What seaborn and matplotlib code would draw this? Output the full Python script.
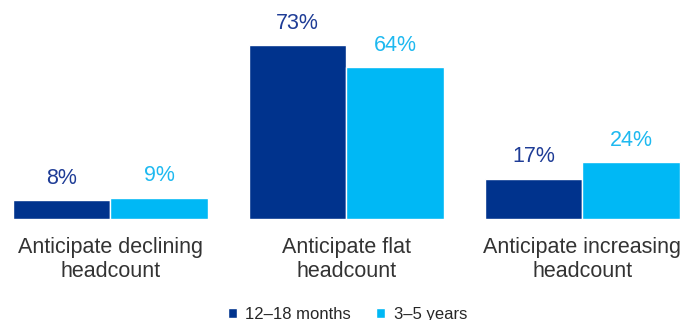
import matplotlib
matplotlib.use("Agg")
import matplotlib.pyplot as plt
import seaborn as sns
import pandas as pd

categories = ["Anticipate declining\nheadcount", "Anticipate flat\nheadcount", "Anticipate increasing\nheadcount"]
series = ["12\u201318 months", "3\u20135 years"]
short_term = [8, 73, 17]
long_term = [9, 64, 24]
colors = ["#00338D", "#00B8F5"]
label_colors = ["#1E3C96", "#1EB9F0"]

df = pd.DataFrame({
    "category": categories * 2,
    "horizon": [series[0]] * 3 + [series[1]] * 3,
    "value": short_term + long_term,
})

sns.set_theme(style="white")
plt.rcParams["font.family"] = ["Liberation Sans", "DejaVu Sans"]

fig = plt.figure(figsize=(6.99, 3.2), dpi=100)
ax = fig.add_axes([0, 0.3156, 1, 0.6844])

sns.barplot(data=df, x="category", y="value", hue="horizon", order=categories,
            hue_order=series, palette=colors, width=0.826, edgecolor="white",
            linewidth=1, saturation=1, ax=ax)

for cont, col in zip(ax.containers, label_colors):
    ax.bar_label(cont, labels=[f"{v:.0f}%" for v in cont.datavalues], padding=8,
                 fontsize=15.5, color=col)

ax.set_xlim(-0.468, 2.494)
ax.set_ylim(0, 92)
ax.set_xlabel("")
ax.set_ylabel("")
ax.set_yticks([])
ax.tick_params(axis="x", length=0, pad=13)
for lbl in ax.get_xticklabels():
    lbl.set_fontsize(15.5)
    lbl.set_color("#333333")
    lbl.set_linespacing(1.2)
sns.despine(ax=ax, left=True, bottom=True)

handles, labels = ax.get_legend_handles_labels()
ax.get_legend().remove()
fig.legend(handles, labels, loc="lower center", bbox_to_anchor=(0.497, -0.052),
           ncol=2, frameon=False, handlelength=0.55, handleheight=0.55,
           handletextpad=0.5, columnspacing=1.5, prop={"size": 12})

fig.savefig("out.png", dpi=100)
